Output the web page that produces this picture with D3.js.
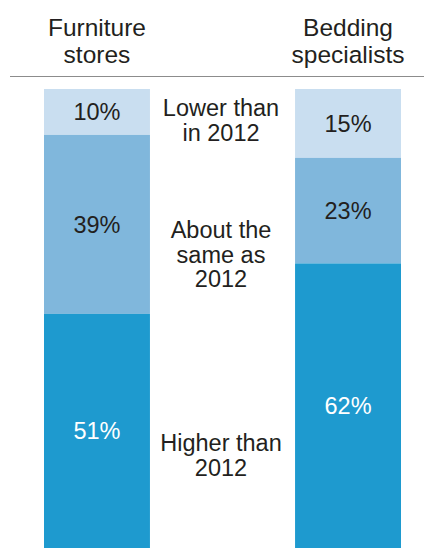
<!DOCTYPE html>
<html>
<head>
<meta charset="utf-8">
<script src="https://cdn.jsdelivr.net/npm/d3@7"></script>
<style>
  html, body { margin: 0; padding: 0; background: #fff; }
  svg { display: block; font-family: "Liberation Sans", Arial, Helvetica, sans-serif; }
</style>
</head>
<body>
<svg id="chart" width="424" height="548"></svg>
<script>
/// data ///
const stores = ["Furniture stores", "Bedding specialists"];
const storeLines = [["Furniture", "stores"], ["Bedding", "specialists"]];
const responses = ["Lower than in 2012", "About the same as 2012", "Higher than 2012"];
const responseLines = [["Lower than", "in 2012"], ["About the", "same as", "2012"], ["Higher than", "2012"]];
const furnitureShares = [10, 39, 51];
const beddingShares = [15, 23, 62];

/// constants ///
const width = 424, height = 548;
const barTop = 89, barBottom = 548;
const colours = ["#c9def0", "#80b7dc", "#1e9acf"];
const textColour = "#231f20";
// vertical centre of each middle annotation (px)
const responseLabelY = [120, 254, 455];

const svg = d3.select("#chart");

// rows in the shape d3.stack wants
const rows = stores.map((s, i) => {
  const vals = i === 0 ? furnitureShares : beddingShares;
  const row = { store: s };
  responses.forEach((r, j) => row[r] = vals[j]);
  return row;
});
const series = d3.stack().keys(responses)(rows);

/// scales ///
const x = d3.scaleBand()
  .domain(stores)
  .range([44, 401])
  .paddingInner(0.578)
  .paddingOuter(0);

const y = d3.scaleLinear()
  .domain([0, 100])
  .range([barTop, barBottom]);

/// header ///
svg.append("line")
  .attr("x1", 10).attr("x2", width)
  .attr("y1", 76.5).attr("y2", 76.5)
  .attr("stroke", "#8c8c8c")
  .attr("stroke-width", 1.2);

storeLines.forEach((lines, i) => {
  const t = svg.append("text")
    .attr("x", x(stores[i]) + x.bandwidth() / 2)
    .attr("y", 36)
    .attr("text-anchor", "middle")
    .attr("font-size", "24.5px")
    .attr("fill", textColour);
  lines.forEach((l, k) => t.append("tspan")
    .attr("x", x(stores[i]) + x.bandwidth() / 2)
    .attr("dy", k === 0 ? 0 : 27)
    .text(l));
});

/// bars ///
const layer = svg.selectAll(".layer")
  .data(series)
  .join("g")
  .attr("class", "layer")
  .attr("fill", (d, i) => colours[i]);

layer.selectAll("rect")
  .data(d => d)
  .join("rect")
  .attr("x", d => x(d.data.store))
  .attr("width", x.bandwidth())
  .attr("y", d => y(d[0]))
  .attr("height", d => y(d[1]) - y(d[0]));

layer.selectAll("text")
  .data(d => d)
  .join("text")
  .attr("x", d => x(d.data.store) + x.bandwidth() / 2)
  .attr("y", d => (y(d[0]) + y(d[1])) / 2)
  .attr("dy", "0.35em")
  .attr("text-anchor", "middle")
  .attr("font-size", "23.5px")
  .attr("fill", function() {
    return d3.select(this.parentNode).datum().index === 2 ? "#fff" : textColour;
  })
  .text(d => (d[1] - d[0]) + "%");

/// middle annotations ///
const midX = (x(stores[0]) + x.bandwidth() + x(stores[1])) / 2 - 1.5;
responseLines.forEach((lines, i) => {
  const lh = 24.5;
  const firstBase = responseLabelY[i] - (lines.length - 1) * lh / 2 + 8.5;
  const t = svg.append("text")
    .attr("x", midX)
    .attr("y", firstBase)
    .attr("text-anchor", "middle")
    .attr("font-size", "23.5px")
    .attr("fill", textColour);
  lines.forEach((l, k) => t.append("tspan")
    .attr("x", midX)
    .attr("dy", k === 0 ? 0 : lh)
    .text(l));
});
</script>
</body>
</html>
